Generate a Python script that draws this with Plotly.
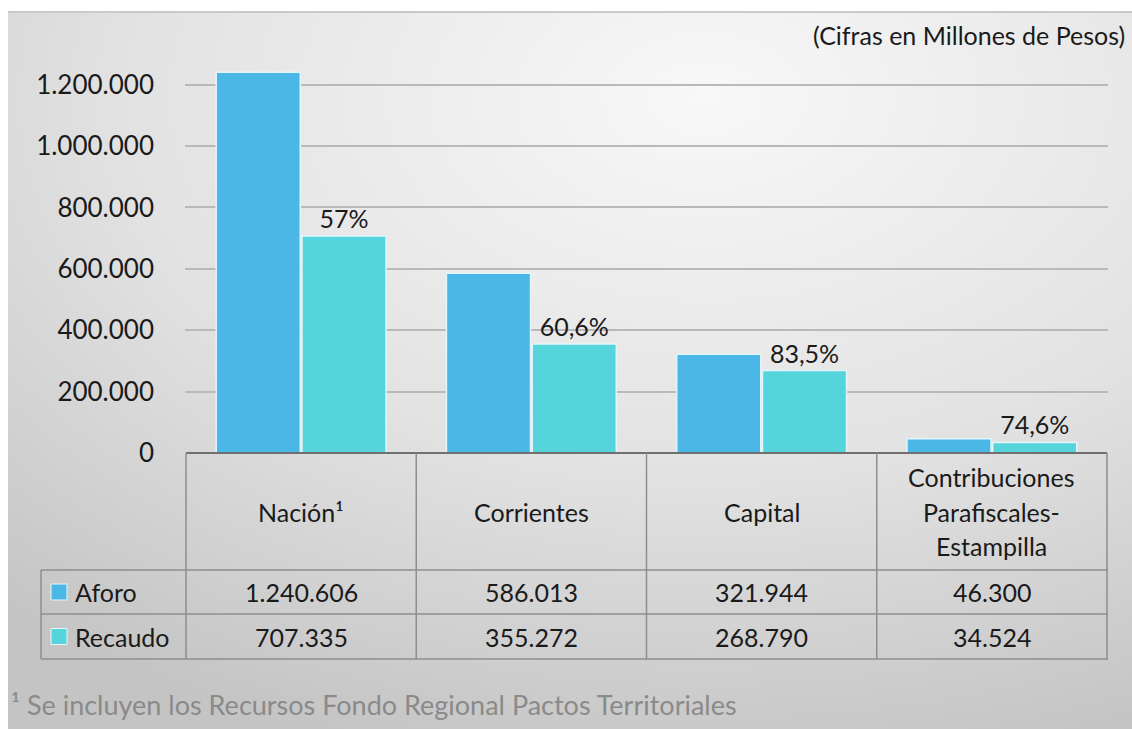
import base64
import plotly.graph_objects as go

# ---------------- data ----------------
categories = ["Nación¹", "Corrientes", "Capital", "Contribuciones\nParafiscales-\nEstampilla"]
series_names = ["Aforo", "Recaudo"]
aforo = [1240606, 586013, 321944, 46300]
recaudo = [707335, 355272, 268790, 34524]
pct_labels = ["57%", "60,6%", "83,5%", "74,6%"]
y_ticks = [0, 200000, 400000, 600000, 800000, 1000000, 1200000]
title_text = "(Cifras en Millones de Pesos)"
footnote_text = "¹ Se incluyen los Recursos Fondo Regional Pactos Territoriales"

# ---------------- style ----------------
W, H = 1132, 729
FONT = "Lato"
FS = 25
C_AFORO = "#4bb7e6"
C_RECAUDO = "#55d4dc"
GRID = "#b9b9b9"
TABLE_LINE = "#8e8e8e"
TXT = "#1a1a1a"


def px(x):
    return x / W


def py(y):
    return 1 - y / H


def fmt(v):
    return f"{v:,}".replace(",", ".")


cat_keys = [c.replace("\n", " ") for c in categories]

fig = go.Figure()
fig.add_trace(go.Bar(
    x=cat_keys, y=aforo, name=series_names[0],
    marker=dict(color=C_AFORO, line=dict(color="#e3f5fb", width=1.5)),
    hoverinfo="y",
))
fig.add_trace(go.Bar(
    x=cat_keys, y=recaudo, name=series_names[1],
    marker=dict(color=C_RECAUDO, line=dict(color="#e3f5fb", width=1.5)),
    text=pct_labels, textposition="outside", cliponaxis=False,
    textfont=dict(family=FONT, size=FS, color=TXT),
    hoverinfo="y",
))

# background gradient
svg = (
    "<svg xmlns='http://www.w3.org/2000/svg' width='1124' height='717' viewBox='0 0 1124 717' "
    "preserveAspectRatio='none'>"
    "<defs><radialGradient id='g' cx='0.62' cy='0.12' r='0.95' fx='0.62' fy='0.12'>"
    "<stop offset='0' stop-color='#f8f8f8'/><stop offset='0.55' stop-color='#e2e2e2'/>"
    "<stop offset='1' stop-color='#c4c4c4'/></radialGradient></defs>"
    "<rect width='1124' height='717' fill='url(#g)'/></svg>"
)
src = "data:image/svg+xml;base64," + base64.b64encode(svg.encode()).decode()

shapes = []
annotations = []

# outer frame top edge
shapes.append(dict(type="line", xref="paper", yref="paper", x0=px(8), x1=1, y0=py(12), y1=py(12),
                   line=dict(color="#c9c9c9", width=2), layer="below"))

# ---- table geometry (pixel rows) ----
row_top, row_hdr, row_a, row_b = 453, 570, 614, 659
leg_left = 41
shapes.append(dict(type="line", xref="x", yref="paper", x0=-0.5, x1=len(categories) - 0.5,
                   y0=py(row_top), y1=py(row_top), line=dict(color="#707070", width=2)))
for yy in (row_hdr, row_a, row_b):
    shapes.append(dict(type="line", xref="paper", yref="paper", x0=px(leg_left), x1=px(1108),
                       y0=py(yy), y1=py(yy), line=dict(color=TABLE_LINE, width=1.5)))
for i in range(len(categories) + 1):
    shapes.append(dict(type="line", xref="x", yref="paper", x0=i - 0.5, x1=i - 0.5,
                       y0=py(row_top), y1=py(row_b), line=dict(color=TABLE_LINE, width=1.5)))
shapes.append(dict(type="line", xref="paper", yref="paper", x0=px(leg_left), x1=px(leg_left),
                   y0=py(row_hdr), y1=py(row_b), line=dict(color=TABLE_LINE, width=1.5)))

# header texts
hdr_center = (row_top + row_hdr) / 2
line_gap = 34.5
for cat, key in zip(categories, cat_keys):
    lines = cat.split("\n")
    n = len(lines)
    for j, ln in enumerate(lines):
        yy = hdr_center + (j - (n - 1) / 2) * line_gap
        annotations.append(dict(x=key, xref="x", y=py(yy), yref="paper", text=ln, showarrow=False,
                                font=dict(family=FONT, size=FS, color=TXT), xanchor="center", yanchor="middle"))

# value rows
rows = [(series_names[0], aforo, C_AFORO, (row_hdr + row_a) / 2),
        (series_names[1], recaudo, C_RECAUDO, (row_a + row_b) / 2)]
for name, vals, col, yc in rows:
    shapes.append(dict(type="rect", xref="paper", yref="paper", x0=px(51), x1=px(67),
                       y0=py(yc + 8), y1=py(yc - 8), fillcolor=col, line=dict(width=1, color="#eaf6fa")))
    annotations.append(dict(x=px(73), xref="paper", y=py(yc), yref="paper", text=name, showarrow=False,
                            font=dict(family=FONT, size=FS, color=TXT), xanchor="left", yanchor="middle"))
    for key, v in zip(cat_keys, vals):
        annotations.append(dict(x=key, xref="x", y=py(yc), yref="paper", text=fmt(v), showarrow=False,
                                font=dict(family=FONT, size=FS, color=TXT), xanchor="center", yanchor="middle"))

# title & footnote
annotations.append(dict(x=px(1127), xref="paper", y=py(35), yref="paper", text=title_text, showarrow=False,
                        font=dict(family=FONT, size=FS, color=TXT), xanchor="right", yanchor="middle"))
annotations.append(dict(x=px(9), xref="paper", y=py(704), yref="paper", text=footnote_text, showarrow=False,
                        font=dict(family=FONT, size=27, color="#8a8a8a"), xanchor="left", yanchor="middle"))

fig.update_layout(
    width=W, height=H,
    margin=dict(l=0, r=0, t=0, b=0, pad=0, autoexpand=False),
    paper_bgcolor="white",
    plot_bgcolor="rgba(0,0,0,0)",
    separators=",.",
    barmode="group",
    bargap=0.255,
    bargroupgap=0.02,
    showlegend=False,
    font=dict(family=FONT, size=FS, color=TXT),
    xaxis=dict(domain=[px(185), px(1108)], showticklabels=False, showgrid=False, zeroline=False,
               showline=False, ticks="", fixedrange=True, automargin=False),
    yaxis=dict(domain=[py(453), py(54)], range=[0, 1300000], tickvals=y_ticks, tickformat=",d",
               showgrid=True, gridcolor=GRID, gridwidth=1.5, zeroline=False, showline=False,
               ticks="", ticklabelstandoff=30, tickfont=dict(family=FONT, size=26, color=TXT),
               fixedrange=True, automargin=False),
    images=[dict(source=src, xref="paper", yref="paper", x=px(8), y=py(12), sizex=1 - px(8),
                 sizey=py(12), xanchor="left", yanchor="top", sizing="stretch", layer="below")],
    shapes=shapes,
    annotations=annotations,
)

fig.write_html("out.html", config={"displayModeBar": False},
               post_script="document.body.style.margin='0';")
